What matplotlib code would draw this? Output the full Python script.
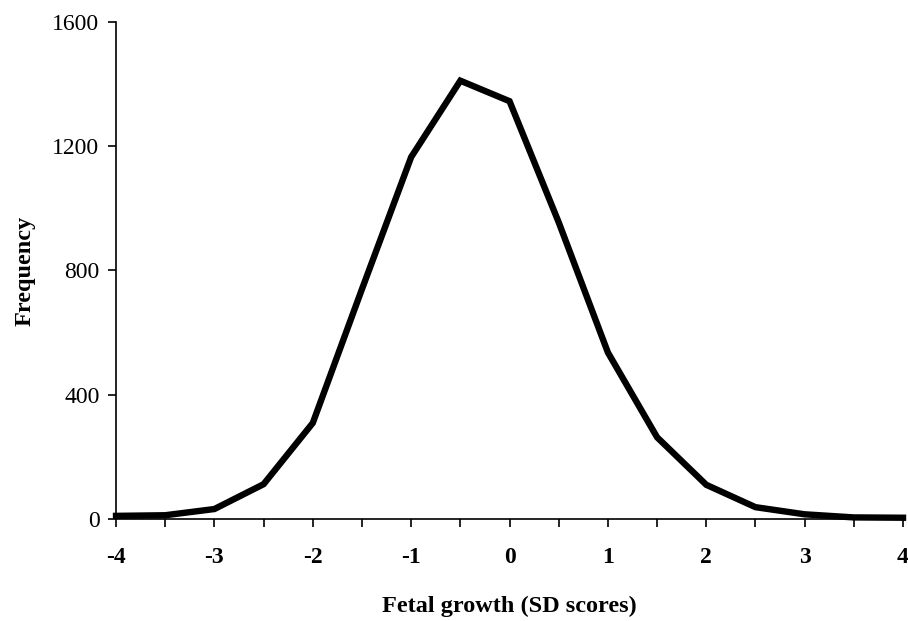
import matplotlib
matplotlib.use("Agg")
import matplotlib.pyplot as plt
from matplotlib.ticker import MultipleLocator

# fetal growth SD score vs frequency
sd_scores = [-4, -3.5, -3, -2.5, -2, -1.5, -1, -0.5, 0, 0.5, 1, 1.5, 2, 2.5, 3, 3.5, 4]
frequency = [10, 12, 32, 112, 309, 740, 1165, 1411, 1345, 955, 536, 263, 110, 38, 15, 5, 4]

x_ticks = [-4, -3, -2, -1, 0, 1, 2, 3, 4]
y_ticks = [0, 400, 800, 1200, 1600]

plt.rcParams['font.family'] = ['Liberation Serif', 'DejaVu Serif']

fig = plt.figure(figsize=(9.08, 6.21), dpi=100)
ax = fig.add_axes([0.1278, 0.1643, 0.8667, 0.8003])

ax.plot(sd_scores, frequency, color='black', linewidth=4.6,
        solid_joinstyle='miter', clip_on=False)

ax.set_xlim(-4, 4)
ax.set_ylim(0, 1600)
ax.set_xticks(x_ticks)
ax.set_xticklabels([str(t) for t in x_ticks], fontsize=17, fontweight='bold')
ax.xaxis.set_minor_locator(MultipleLocator(0.5))
ax.set_yticks(y_ticks)
ax.set_yticklabels([str(t) for t in y_ticks], fontsize=17)

for s in ['top', 'right']:
    ax.spines[s].set_visible(False)
for s in ['left', 'bottom']:
    ax.spines[s].set_linewidth(1.2)

ax.tick_params(axis='both', which='both', direction='out', length=6, width=1.2)
ax.tick_params(axis='x', which='major', pad=14)
ax.tick_params(axis='y', pad=6)

ax.set_xlabel('Fetal growth (SD scores)', fontsize=17.5, fontweight='bold', labelpad=20)
ax.set_ylabel('Frequency', fontsize=17.5, fontweight='bold', labelpad=12)

fig.savefig('out.png', dpi=100)
